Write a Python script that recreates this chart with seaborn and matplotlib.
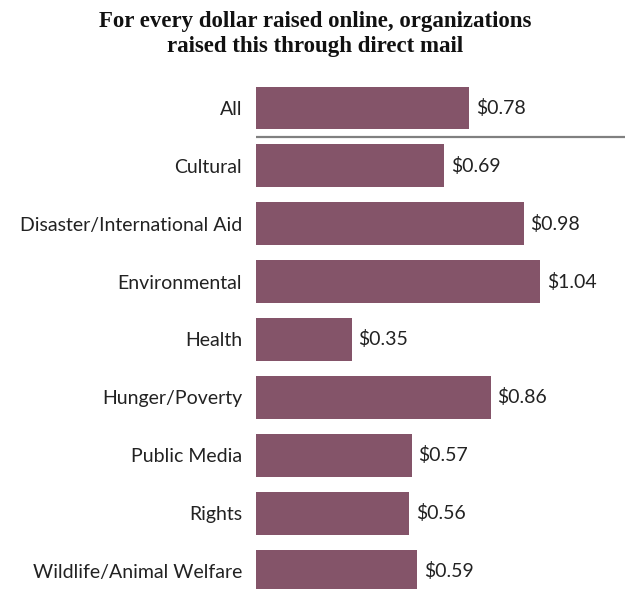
import matplotlib
matplotlib.use("Agg")
import matplotlib.pyplot as plt
import seaborn as sb
import pandas as pd

categories = ["All", "Cultural", "Disaster/International Aid", "Environmental", "Health",
              "Hunger/Poverty", "Public Media", "Rights", "Wildlife/Animal Welfare"]
values = [0.78, 0.69, 0.98, 1.04, 0.35, 0.86, 0.57, 0.56, 0.59]
value_labels = ["$0.78", "$0.69", "$0.98", "$1.04", "$0.35", "$0.86", "$0.57", "$0.56", "$0.59"]

df = pd.DataFrame({"Category": categories, "Value": values})

sb.set_style("white")
plt.rcParams["font.family"] = ["Lato", "DejaVu Sans"]

fig = plt.figure(figsize=(6.25, 5.89), dpi=100)
ax = fig.add_axes([256 / 625, 0.0, 1 - 256 / 625, (589 - 79) / 589])

sb.barplot(data=df, x="Value", y="Category", color="#845469", saturation=1,
           width=0.74, linewidth=0, ax=ax)

ax.set_xlim(0, 369 / 273)
ax.set_ylim(8.31, -0.5)
ax.axhline(0.5, color="#808080", lw=1.6)

for i, (v, lab) in enumerate(zip(values, value_labels)):
    ax.text(v + 0.025, i, lab, va="center", ha="left", fontsize=14, color="#222222")

ax.set_xlabel("")
ax.set_ylabel("")
ax.set_xticks([])
ax.tick_params(axis="y", length=0, pad=10, labelsize=14, labelcolor="#222222")
for s in ax.spines.values():
    s.set_visible(False)

fig.text(0.504, 1 - 34 / 589, "For every dollar raised online, organizations\nraised this through direct mail",
         ha="center", va="center", fontsize=16.5, fontweight="bold",
         family=["Liberation Serif"], color="#111111", linespacing=1.3)

plt.savefig("out.png", dpi=100)
